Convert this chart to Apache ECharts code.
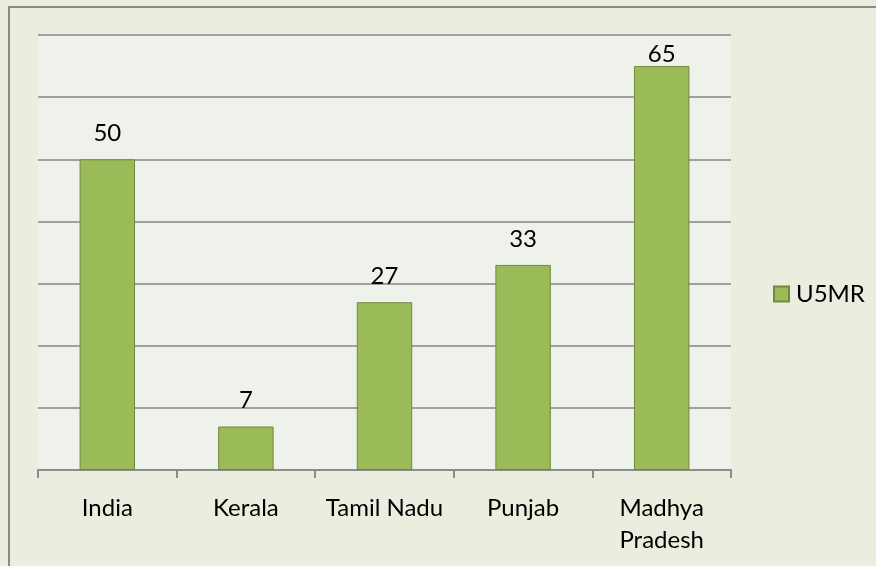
<!DOCTYPE html>
<html>
<head>
<meta charset="utf-8">
<script src="https://cdn.jsdelivr.net/npm/echarts@6/dist/echarts.min.js"></script>
<style>
  html, body { margin: 0; padding: 0; background: #ebeedf; }
  #frame { position: absolute; left: 0; top: 0; width: 876px; height: 566px; background: #ebeedf; overflow: hidden; }
  #border { position: absolute; left: 8px; top: 6px; width: 900px; height: 600px; border-left: 2px solid #8a8a8a; border-top: 2px solid #8a8a8a; }
  #chart { position: absolute; left: 0; top: 0; width: 876px; height: 566px; }
</style>
</head>
<body>
<div id="frame">
  <div id="border"></div>
  <div id="chart"></div>
</div>
<script>
const categories = ['India', 'Kerala', 'Tamil Nadu', 'Punjab', 'Madhya\nPradesh'];
const u5mr = [50, 7, 27, 33, 65];
const seriesName = 'U5MR';

const FONT = 'Lato';
const chart = echarts.init(document.getElementById('chart'), null, { renderer: 'canvas' });
chart.setOption({
  backgroundColor: 'transparent',
  animation: false,
  textStyle: { fontFamily: FONT },
  grid: {
    left: 38, right: 145, top: 35, bottom: 96,
    show: true, backgroundColor: '#eff2ea', borderWidth: 0
  },
  legend: {
    left: 768, top: 277,
    itemWidth: 15, itemHeight: 15, itemGap: 7,
    icon: 'rect',
    textStyle: { fontSize: 24, color: '#000', fontFamily: FONT, padding: [0, 0, 0, 2] },
    data: [seriesName]
  },
  xAxis: {
    type: 'category',
    data: categories,
    axisLine: { lineStyle: { color: '#8c8c8c', width: 2 } },
    axisTick: { show: true, length: 8, alignWithLabel: false, lineStyle: { color: '#8c8c8c', width: 2 } },
    axisLabel: { color: '#000', fontSize: 24, lineHeight: 32, margin: 22, fontFamily: FONT, interval: 0 }
  },
  yAxis: {
    type: 'value',
    min: 0, max: 70, interval: 10,
    axisLine: { show: false },
    axisTick: { show: false },
    axisLabel: { show: false },
    splitLine: { lineStyle: { color: '#a0a0a0', width: 2 } }
  },
  series: [{
    name: seriesName,
    type: 'bar',
    barCategoryGap: '60%',
    data: u5mr.map((v, i) => i === u5mr.length - 1 ? { value: v, label: { distance: 0 } } : v),
    itemStyle: { color: '#9bbb59', borderColor: '#71893f', borderWidth: 1 },
    label: { show: true, position: 'top', distance: 14, color: '#000', fontSize: 24, fontFamily: FONT }
  }]
});
</script>
</body>
</html>
